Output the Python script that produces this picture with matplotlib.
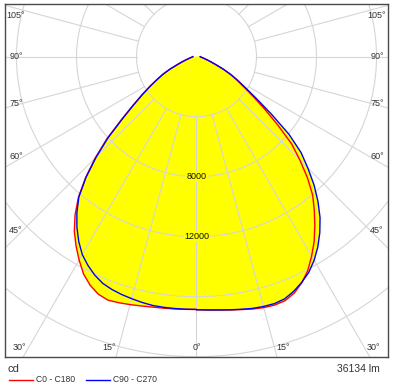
import numpy as np
import matplotlib
matplotlib.use('Agg')
import matplotlib.pyplot as plt
from matplotlib.lines import Line2D

plt.rcParams['font.family'] = ['Liberation Sans', 'DejaVu Sans']

# Lichtstärke (cd) je Ausstrahlungswinkel gamma (Grad), Schritt 2.5°
gamma = np.arange(0, 90.1, 2.5)
c0 = [16870, 16900, 16950, 17030, 17120, 17230, 17320, 17360, 17300, 17050,
      16620, 16070, 15350, 14600, 13750, 12900, 12050, 10950, 9750, 8600,
      7050, 5700, 4600, 3750, 3100, 2550, 1960, 1400, 1050, 800,
      620, 500, 420, 350, 300, 270, 250]
c180 = [16850, 16860, 16880, 16910, 16950, 17020, 17110, 17200, 17270, 17130,
        16800, 16320, 15650, 14950, 14200, 13300, 12250, 10950, 9550, 8100,
        6550, 5350, 4450, 3700, 3050, 2530, 1950, 1400, 1050, 800,
        620, 500, 420, 350, 300, 270, 250]
c90 = [16870, 16900, 16950, 17020, 17100, 17190, 17240, 17260, 17180, 16930,
       16600, 16210, 15680, 15050, 14330, 13530, 12600, 11600, 10500, 9450,
       8050, 6300, 4900, 3900, 3200, 2600, 2000, 1430, 1070, 810,
       630, 505, 420, 350, 300, 270, 250]
c270 = [16850, 16850, 16850, 16850, 16840, 16780, 16700, 16620, 16510, 16350,
        16060, 15680, 15230, 14610, 13900, 13100, 12200, 10900, 9450, 8000,
        6450, 5300, 4400, 3650, 3000, 2480, 1920, 1380, 1040, 790,
        615, 500, 420, 350, 300, 270, 250]

ring_values = [4000, 8000, 12000, 16000, 20000, 24000]
ring_labels = [8000, 12000]
angle_ticks = [0, 15, 30, 45, 60, 75, 90, 105]
series_names = ['C0 - C180', 'C90 - C270']
unit_text = 'cd'
flux_text = '36134 lm'

# Layout in Pixel
W, H = 395, 390
scale = 0.015              # px pro cd
cx, cy = 196.5, 56.7       # Mittelpunkt (von oben links)
left, top, right, bottom = 5, 4, 388, 357
grid_col = '#d6d6d6'
txt_col = '#333333'

fig = plt.figure(figsize=(W / 100, H / 100), dpi=100)
ax = fig.add_axes([left / W, 1 - bottom / H, (right - left) / W, (bottom - top) / H])
ax.set_xlim((left - cx) / scale, (right - cx) / scale)
ax.set_ylim(-(bottom - cy) / scale, (cy - top) / scale)
ax.set_xticks([])
ax.set_yticks([])
for sp in ax.spines.values():
    sp.set_color('#4a4a4a')
    sp.set_linewidth(1.0)


def outline(lvals, rvals):
    g = np.radians(gamma)
    lv = np.array(lvals, float)
    rv = np.array(rvals, float)
    x = np.concatenate([-lv[::-1] * np.sin(g[::-1]), rv * np.sin(g)])
    y = np.concatenate([-lv[::-1] * np.cos(g[::-1]), -rv * np.cos(g)])
    return x, y


xr, yr = outline(c180, c0)
xb, yb = outline(c270, c90)

# Füllung
ax.fill(xr, yr, color='#ffff00', lw=0, zorder=1)
ax.fill(xb, yb, color='#ffff00', lw=0, zorder=1)

# Raster: Kreise und Speichen
t = np.linspace(0, 2 * np.pi, 400)
for rv in ring_values:
    ax.plot(rv * np.cos(t), rv * np.sin(t), color=grid_col, lw=0.8, zorder=2)
for a in range(0, 360, 15):
    ar = np.radians(a)
    rr = np.array([ring_values[0], 40000])
    ax.plot(rr * np.sin(ar), -rr * np.cos(ar), color=grid_col, lw=0.8, zorder=2)

# Kurven
ax.plot(xr, yr, color='#ff0000', lw=1.0, zorder=3)
ax.plot(xb, yb, color='#0000ff', lw=1.0, zorder=3)

# Ringbeschriftung
for rv in ring_labels:
    ax.text(0, -rv, str(rv), ha='center', va='center', fontsize=6.5, color='#111111', zorder=4,
            bbox=dict(facecolor='#ffff00', edgecolor='none', pad=0.3))

# Winkelbeschriftung
half_w = (right - left) / 2 / scale
yb_lab = -(bottom - 9 - cy) / scale
y_top = (cy - top - 12) / scale
for a in angle_ticks:
    ar = np.radians(a)
    sides = [0] if a == 0 else [-1, 1]
    for s in sides:
        if a <= 30:
            x = s * abs(yb_lab) * np.tan(ar)
            ha = 'center' if s == 0 else ('right' if s < 0 else 'left')
            ax.text(x + s * 150, yb_lab, f'{a}°', ha=ha, va='center', fontsize=6.5, color=txt_col, zorder=4)
        else:
            y = -np.cos(ar) / np.sin(ar) * (173.5 / scale)
            y = min(y, y_top)
            ax.text(s * (half_w - 11 / scale), y, f'{a}°', ha='center', va='center',
                    fontsize=6.5, color=txt_col, zorder=4)

# Legende
fig.text(8 / W, 1 - 369 / H, unit_text, ha='left', va='center', fontsize=8, color=txt_col)
fig.text(380 / W, 1 - 369 / H, flux_text, ha='right', va='center', fontsize=7.5, color=txt_col)
leg_y = 1 - 380 / H
fig.add_artist(Line2D([9 / W, 33 / W], [leg_y, leg_y], color='#ff0000', lw=1.0))
fig.text(36 / W, leg_y, series_names[0], ha='left', va='center', fontsize=6.2, color=txt_col)
fig.add_artist(Line2D([86 / W, 110 / W], [leg_y, leg_y], color='#0000ff', lw=1.0))
fig.text(113 / W, leg_y, series_names[1], ha='left', va='center', fontsize=6.2, color=txt_col)

fig.savefig('out.png', dpi=100)
